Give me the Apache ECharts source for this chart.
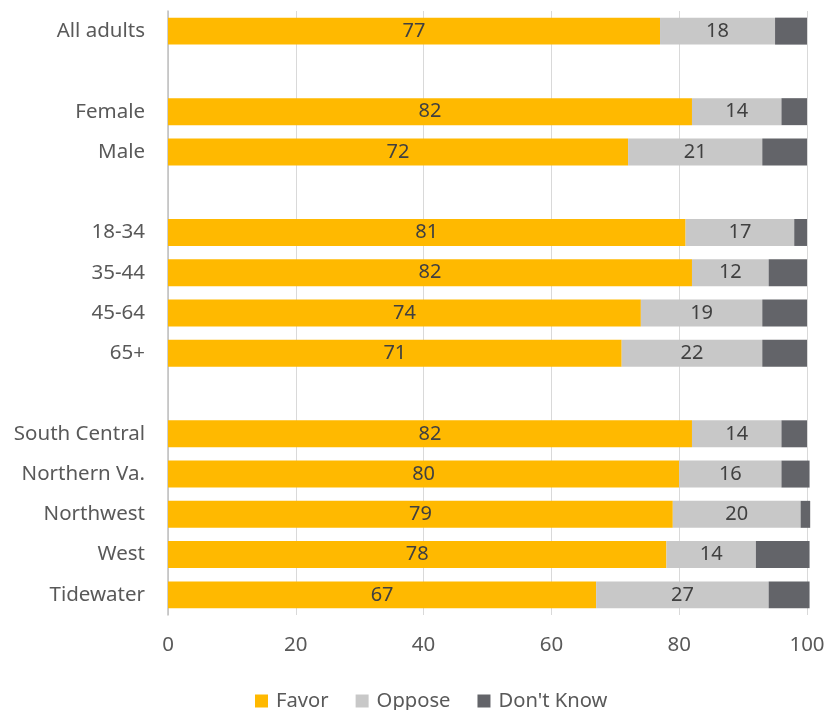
<!DOCTYPE html>
<html><head><meta charset="utf-8">
<script src="https://cdn.jsdelivr.net/npm/echarts@6/dist/echarts.min.js"></script>
<style>html,body{margin:0;padding:0;background:#fff}#c{width:830px;height:710px}</style>
</head><body><div id="c"></div>
<script>
const categories = ['All adults','', 'Female','Male','', '18-34','35-44','45-64','65+','', 'South Central','Northern Va.','Northwest','West','Tidewater'];
const favor  = [77,null,82,72,null,81,82,74,71,null,82,80,79,78,67];
const oppose = [18,null,14,21,null,17,12,19,22,null,14,16,20,14,27];
const dontKnow = [5,null,4,7,null,2,6,7,7,null,4,4.4,1.5,8.4,6.4];
const xTicks = [0,20,40,60,80,100];

const font = 'Noto Sans';
const chart = echarts.init(document.getElementById('c'));
const lbl = {show:true, position:'inside', color:'#404040', fontSize:20, fontFamily:font};
chart.setOption({
  animation:false,
  textStyle:{fontFamily:font},
  grid:{left:168, right:23, top:11, bottom:95, containLabel:false},
  xAxis:{type:'value', min:xTicks[0], max:xTicks[xTicks.length-1], interval:20,
    axisLine:{show:false}, axisTick:{show:false},
    axisLabel:{color:'#595959', fontSize:20.5, fontFamily:font, margin:20},
    splitLine:{lineStyle:{color:'#d9d9d9', width:1}}},
  yAxis:{type:'category', data:categories, inverse:true,
    axisLine:{lineStyle:{color:'#bfbfbf', width:1.5}}, axisTick:{show:false},
    axisLabel:{color:'#595959', fontSize:20.5, fontFamily:font, margin:23}},
  legend:{bottom:-1, left:255, itemWidth:13, itemHeight:13, itemGap:27, icon:'rect', padding:0,
    textStyle:{color:'#595959', fontSize:20.2, fontFamily:font, padding:[0,0,0,3]}},
  series:[
    {name:'Favor', type:'bar', stack:'s', data:favor, barCategoryGap:'33%', itemStyle:{color:'#ffb900'}, label:lbl, clip:false},
    {name:'Oppose', type:'bar', stack:'s', data:oppose, itemStyle:{color:'#c8c8c8'}, label:lbl, clip:false},
    {name:"Don't Know", type:'bar', stack:'s', data:dontKnow, itemStyle:{color:'#636469'}, label:{show:false}, clip:false}
  ]
});
</script></body></html>
